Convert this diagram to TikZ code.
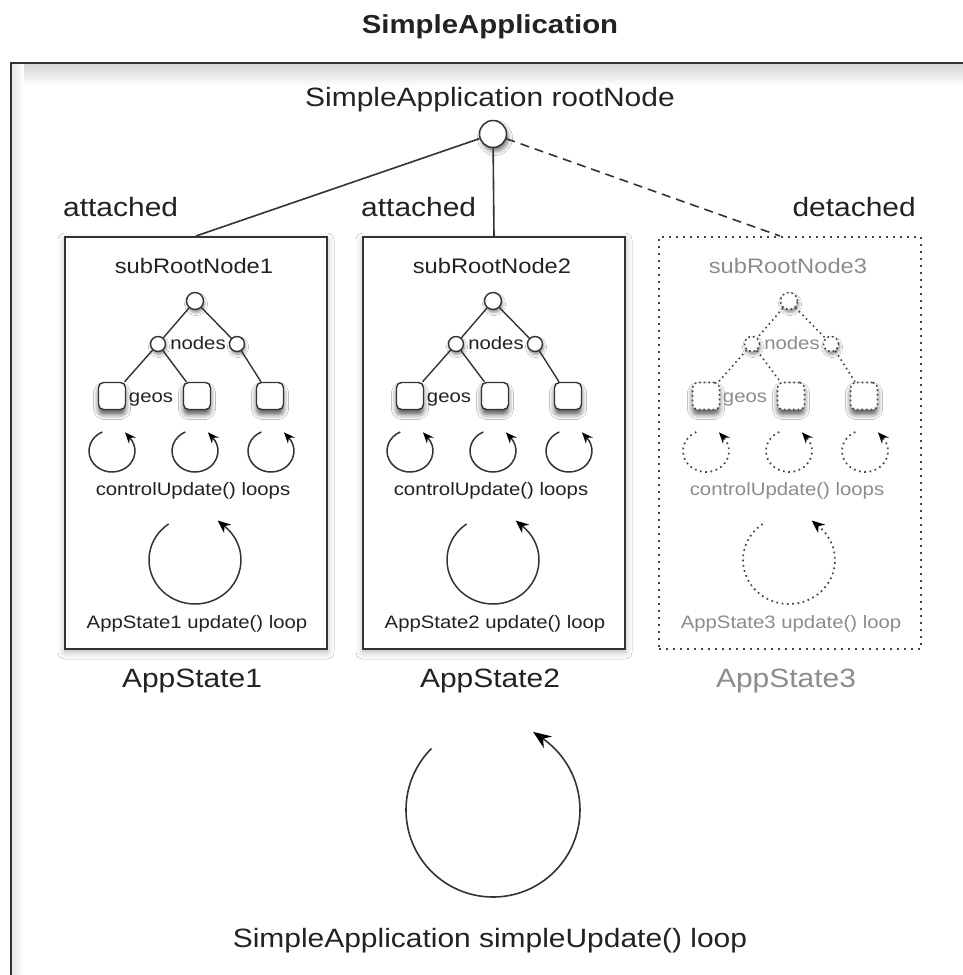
\documentclass[tikz,border=0pt]{standalone}
\usepackage{fontspec}
\setmainfont{Liberation Sans}[FakeStretch=1.13]
\usetikzlibrary{arrows.meta,shadows.blur,calc}
\definecolor{lc}{HTML}{333333}
\definecolor{tg}{HTML}{222222}
\definecolor{gt}{HTML}{8C8C8C}
\definecolor{gl}{HTML}{444444}
\tikzset{
  big/.style={font=\fontsize{26.5}{30}\selectfont, inner sep=0pt},
  titlef/.style={font=\bfseries\fontsize{26}{30}\selectfont, inner sep=0pt, text=tg},
  mid/.style={font=\fontsize{21}{24}\selectfont, inner sep=0pt},
  small/.style={font=\fontsize{18}{21}\selectfont, inner sep=0pt},
  txtA/.style={text=tg},
  txtD/.style={text=gt},
  boxA/.style={draw=lc, line width=2pt, fill=white, minimum width=262pt, minimum height=412pt,
    blur shadow={shadow xshift=0pt, shadow yshift=-3pt, shadow blur radius=7pt, shadow opacity=30}},
  boxD/.style={draw=gl, line width=2pt, dash pattern=on 2pt off 5pt, fill=white, minimum width=262pt, minimum height=412pt},
  circA/.style={circle, draw=lc, line width=1.4pt, fill=white, inner sep=0pt,
    blur shadow={shadow xshift=1pt, shadow yshift=-3pt, shadow blur radius=3pt, shadow opacity=45}},
  circD/.style={circle, draw=gl, line width=1.6pt, dash pattern=on 1.6pt off 3pt, fill=white, inner sep=0pt,
    blur shadow={shadow xshift=1pt, shadow yshift=-3pt, shadow blur radius=3pt, shadow opacity=45}},
  sqA/.style={rectangle, rounded corners=5pt, draw=lc, line width=1.4pt, fill=white, minimum width=27pt, minimum height=27pt,
    blur shadow={shadow xshift=0pt, shadow yshift=-5pt, shadow blur radius=5pt, shadow opacity=65}},
  sqD/.style={rectangle, rounded corners=5pt, draw=gl, line width=1.6pt, dash pattern=on 1.6pt off 3pt, fill=white, minimum width=27pt, minimum height=27pt,
    blur shadow={shadow xshift=0pt, shadow yshift=-5pt, shadow blur radius=5pt, shadow opacity=65}},
  edgeA/.style={draw=lc, line width=1.4pt},
  edgeD/.style={draw=gl, line width=1.6pt, dash pattern=on 1.6pt off 3.4pt},
  loopA/.style={draw=lc, line width=1.5pt},
  loopD/.style={draw=gl, line width=1.7pt, dash pattern=on 1.7pt off 3.6pt},
  tipS/.style={-{Stealth[length=11pt,width=9pt,color=black]}},
  tipM/.style={-{Stealth[length=13pt,width=11pt,color=black]}},
  tipL/.style={-{Stealth[length=18pt,width=14pt,color=black]}},
  rootc/.style={ellipse/.try, circle, draw=lc, line width=1.5pt, fill=white, minimum size=27pt, inner sep=0pt,
    blur shadow={shadow xshift=2pt, shadow yshift=-4pt, shadow blur radius=4pt, shadow opacity=50}},
  frame/.style={draw=lc, line width=2pt},
  conn/.style={draw=lc, line width=1.6pt},
  connD/.style={draw=lc, line width=1.6pt, dash pattern=on 9pt off 6pt}
}
\newcommand\appstate[3]{%
\begin{scope}[xshift=#2pt]
  \node[box#3, anchor=north west] (box#1) at (0,-236) {};
  \node[mid, txt#3, anchor=base] (sub#1) at (130,-273) {subRootNode#1};
  \node[circ#3, minimum size=17pt] (t#1) at (131,-301) {};
  \node[circ#3, minimum size=15pt] (l#1) at (94,-344) {};
  \node[circ#3, minimum size=15pt] (r#1) at (173,-344) {};
  \node[sq#3] (sa#1) at (48,-396) {};
  \node[sq#3] (sb#1) at (133,-396) {};
  \node[sq#3] (sc#1) at (206,-396) {};
  \node[small, txt#3, anchor=base] (nd#1) at (134,-349) {nodes};
  \node[small, txt#3, anchor=base] (ge#1) at (87,-402) {geos};
  \draw[edge#3] (t#1) -- (l#1);
  \draw[edge#3] (t#1) -- (r#1);
  \draw[edge#3] (l#1) -- (sa#1);
  \draw[edge#3] (l#1) -- (sb#1);
  \draw[edge#3] (r#1) -- (sc#1);
  \foreach \cx in {48,131,207}{
    \draw[loop#3, tipS] ([shift={(115:23 and 21)}]\cx,-451) arc[start angle=115, end angle=400, x radius=23, y radius=21] -- ++(132:7);
  }
  \node[small, txt#3, anchor=base] (cu#1) at (129,-495) {controlUpdate() loops};
  \draw[loop#3, tipM] ([shift={(125:46 and 44)}]131,-560) arc[start angle=125, end angle=410, x radius=46, y radius=44] -- ++(140:9);
  \node[small, txt#3, anchor=base] (up#1) at (133,-628) {AppState#1 update() loop};
  \node[big, txt#3, anchor=base] (as#1) at (128,-687) {AppState#1};
\end{scope}}
\begin{document}
\begin{tikzpicture}[x=1pt,y=1pt]
  \path[use as bounding box, fill=white] (0,0) rectangle (963,-975);
  % outer frame with inner shading
  \shade[top color=black!16, bottom color=white] (11,-64) rectangle (963,-86);
  \shade[left color=black!10, right color=white] (11,-64) rectangle (24,-975);
  \draw[frame] (11,-975) -- (11,-63) -- (963,-63);
  \node[titlef, anchor=base] (title) at (490,-33) {SimpleApplication};
  \node[big, txtA, anchor=base] (rootlbl) at (490,-106) {SimpleApplication rootNode};
  \node[big, txtA, anchor=base west] (att1) at (63,-216) {attached};
  \node[big, txtA, anchor=base west] (att2) at (361,-216) {attached};
  \node[big, txtA, anchor=base east] (det) at (916,-216) {detached};
  \appstate{1}{64}{A}
  \appstate{2}{362}{A}
  \appstate{3}{658}{D}
  \node[rootc] (root) at (493,-134) {};
  \coordinate (c3) at (780,-236);
  \draw[conn] (root) -- (box1.north);
  \draw[conn] (root) -- (box2.north);
  \draw[connD] (root) -- (c3);
  \draw[loopA, line width=1.6pt, tipL] ([shift={(135:87)}]493,-810) arc[start angle=135, end angle=415, radius=87] -- ++(145:12);
  \node[big, txtA, anchor=base] (mainloop) at (490,-947) {SimpleApplication simpleUpdate() loop};
\end{tikzpicture}
\end{document}
